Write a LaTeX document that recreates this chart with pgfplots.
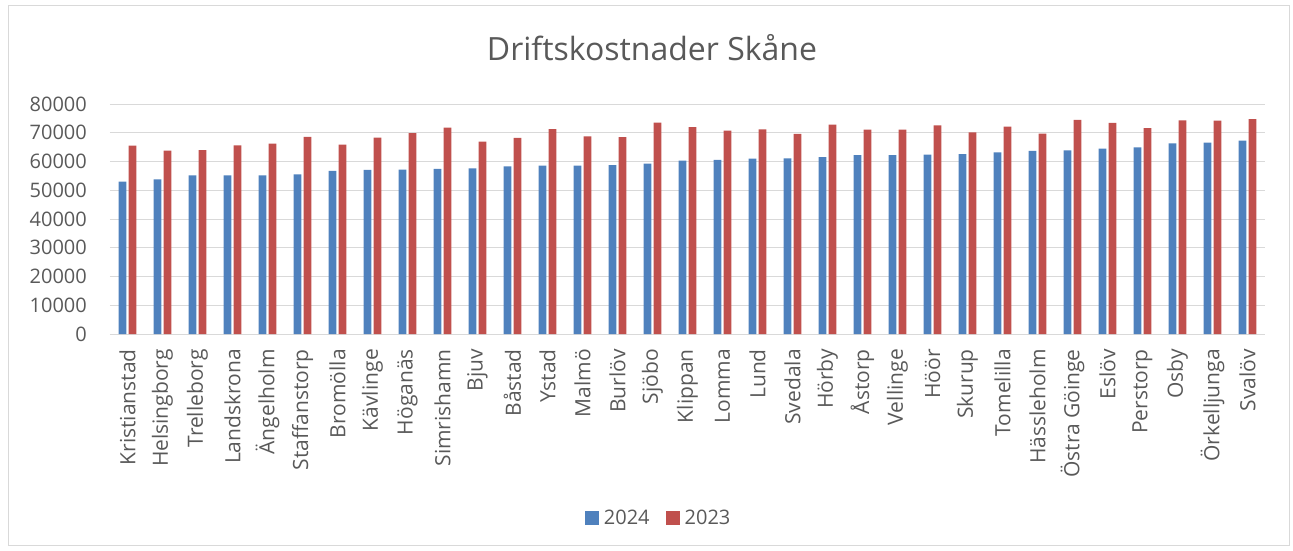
\documentclass[border=0pt]{standalone}
\usepackage{pgfplots}
\usepackage{pgfplotstable}
\pgfplotsset{compat=1.18}
\usepackage{fontspec}
\setmainfont{Open Sans}
\definecolor{blu}{HTML}{4F81BD}
\definecolor{rd}{HTML}{C0504D}
\definecolor{txt}{HTML}{595959}
\definecolor{grd}{HTML}{D9D9D9}
\pgfplotstableread{
idx v24 v23
0 53000 65500
1 53800 63800
2 55200 64000
3 55200 65600
4 55200 66200
5 55500 68600
6 56700 65900
7 57100 68300
8 57200 69900
9 57400 71800
10 57600 66900
11 58300 68200
12 58600 71300
13 58600 68700
14 58700 68500
15 59300 73500
16 60300 72000
17 60600 70700
18 61000 71200
19 61100 69600
20 61500 72800
21 62200 71100
22 62200 71100
23 62400 72600
24 62600 70100
25 63200 72100
26 63700 69700
27 63900 74500
28 64500 73400
29 64900 71600
30 66300 74300
31 66600 74200
32 67300 74700
}\data
\begin{document}
\begin{tikzpicture}[x=1pt,y=1pt]
\useasboundingbox (0,0) rectangle (1293,-551);
\draw[grd,line width=1pt] (8.5,-5.5) rectangle (1289.5,-545.5);
\node[txt,font=\fontsize{32}{38}\selectfont] at (652,-48) {Driftskostnader Skåne};
\begin{axis}[
  at={(110pt,-334pt)}, anchor=south west,
  width=1155pt, height=230pt, scale only axis,
  xmin=-0.5, xmax=32.5, ymin=0, ymax=80000,
  ybar=2.3pt, bar width=7.7pt,
  axis y line*=left, axis x line*=bottom,
  y axis line style={draw=none},
  x axis line style={grd,line width=1pt,-},
  ytick={0,10000,...,80000},
  ymajorgrids, grid style={grd,line width=1pt},
  major tick length=0pt,
  xtick=data,
  xticklabels={Kristianstad,Helsingborg,Trelleborg,Landskrona,Ängelholm,Staffanstorp,Bromölla,Kävlinge,Höganäs,Simrishamn,Bjuv,Båstad,Ystad,Malmö,Burlöv,Sjöbo,Klippan,Lomma,Lund,Svedala,Hörby,Åstorp,Vellinge,Höör,Skurup,Tomelilla,Hässleholm,Östra Göinge,Eslöv,Perstorp,Osby,Örkelljunga,Svalöv},
  xticklabel style={rotate=90, anchor=east, font=\fontsize{21}{25}\selectfont, text=txt, xshift=-15pt, inner sep=0pt},
  yticklabel style={font=\fontsize{20}{24}\selectfont, text=txt, anchor=east, xshift=-23pt, inner sep=0pt},
  /pgf/number format/assume math mode=true,
  scaled y ticks=false,
  yticklabel={\pgfmathprintnumber[fixed,1000 sep={}]{\tick}},
  legend style={at={(0.475,-0.8)}, anchor=center, draw=none, fill=none,
    font=\fontsize{20}{24}\selectfont, text=txt, legend columns=2,
    /tikz/every odd column/.append style={column sep=3pt},
    /tikz/every even column/.append style={column sep=14pt}},
  legend image code/.code={\fill[#1] (0pt,-7pt) rectangle (14pt,7pt);},
  clip=false,
]
\addplot[fill=blu, draw=none] table[x=idx,y=v24]{\data};
\addplot[fill=rd, draw=none] table[x=idx,y=v23]{\data};
\legend{2024,2023}
\end{axis}
\end{tikzpicture}
\end{document}
